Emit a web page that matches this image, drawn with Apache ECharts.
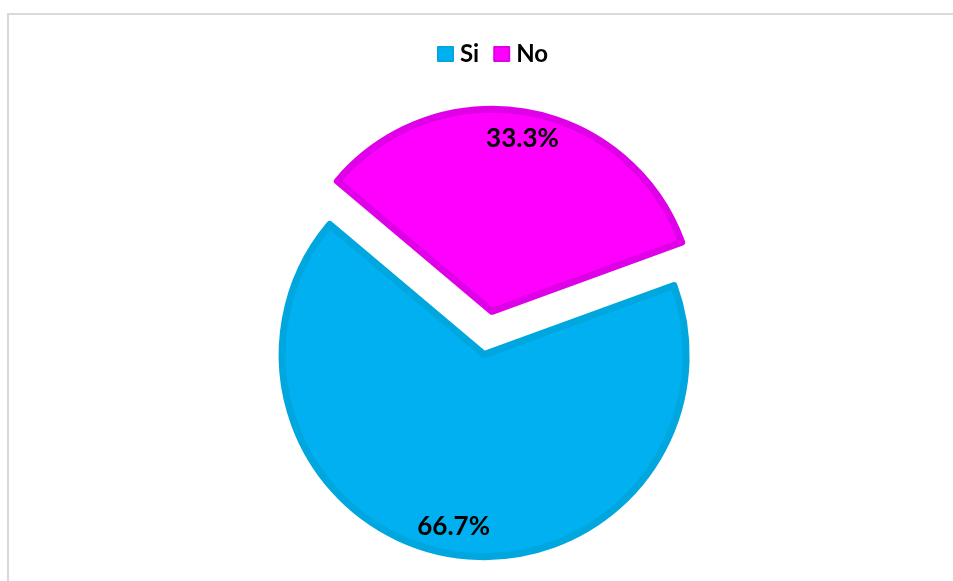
<!DOCTYPE html>
<html>
<head>
<meta charset="utf-8">
<script src="https://cdn.jsdelivr.net/npm/echarts@6/dist/echarts.min.js"></script>
<style>
  html, body { margin: 0; padding: 0; background: #ffffff; }
  #chart { width: 953px; height: 581px; }
</style>
</head>
<body>
<div id="chart"></div>
<script>
// Answer categories and their shares (percent)
const categories = ['Si', 'No'];
const shares = [66.7, 33.3];
const fillColors = ['#00B0F0', '#FF00FF'];
const edgeColors = ['#00A6DE', '#E000E8'];

const chart = echarts.init(document.getElementById('chart'), null, { renderer: 'canvas' });

const pieCenter = [488, 333];
const explode = 22;

function sliceData(withStyle) {
  return categories.map((name, i) => ({
    name: name,
    value: shares[i],
    selected: true,
    itemStyle: withStyle
      ? { color: fillColors[i], borderColor: edgeColors[i], borderWidth: 7 }
      : { color: 'rgba(0,0,0,0)', borderWidth: 0 }
  }));
}

const option = {
  backgroundColor: '#ffffff',
  animation: false,
  color: fillColors,
  legend: {
    data: categories,
    left: 432,
    top: 37,
    itemWidth: 15,
    itemHeight: 14,
    itemGap: 14,
    icon: 'rect',
    selectedMode: false,
    textStyle: {
      fontFamily: 'Lato',
      fontWeight: 'bold',
      fontSize: 24,
      color: '#000000',
      padding: [0, 0, 0, 2]
    }
  },
  graphic: [{
    type: 'rect',
    silent: true,
    shape: { x: 8, y: 14, width: 980, height: 620 },
    style: { fill: 'none', stroke: '#d9d9d9', lineWidth: 2 }
  }],
  series: [
    {
      // the pie itself, both slices pulled out
      type: 'pie',
      center: pieCenter,
      radius: 202,
      startAngle: 20,
      clockwise: true,
      selectedMode: 'multiple',
      selectedOffset: explode,
      silent: true,
      label: { show: false },
      labelLine: { show: false },
      emphasis: { disabled: true },
      data: sliceData(true)
    },
    {
      // percentage labels placed near the rim
      type: 'pie',
      center: pieCenter,
      radius: [148, 196],
      startAngle: 20,
      clockwise: true,
      selectedMode: 'multiple',
      selectedOffset: explode,
      silent: true,
      legendHoverLink: false,
      emphasis: { disabled: true },
      label: {
        show: true,
        position: 'inside',
        formatter: '{c}%',
        fontFamily: 'Lato',
        fontWeight: 'bold',
        fontSize: 26,
        color: '#000000'
      },
      labelLine: { show: false },
      data: sliceData(false)
    }
  ]
};

chart.setOption(option);
</script>
</body>
</html>
